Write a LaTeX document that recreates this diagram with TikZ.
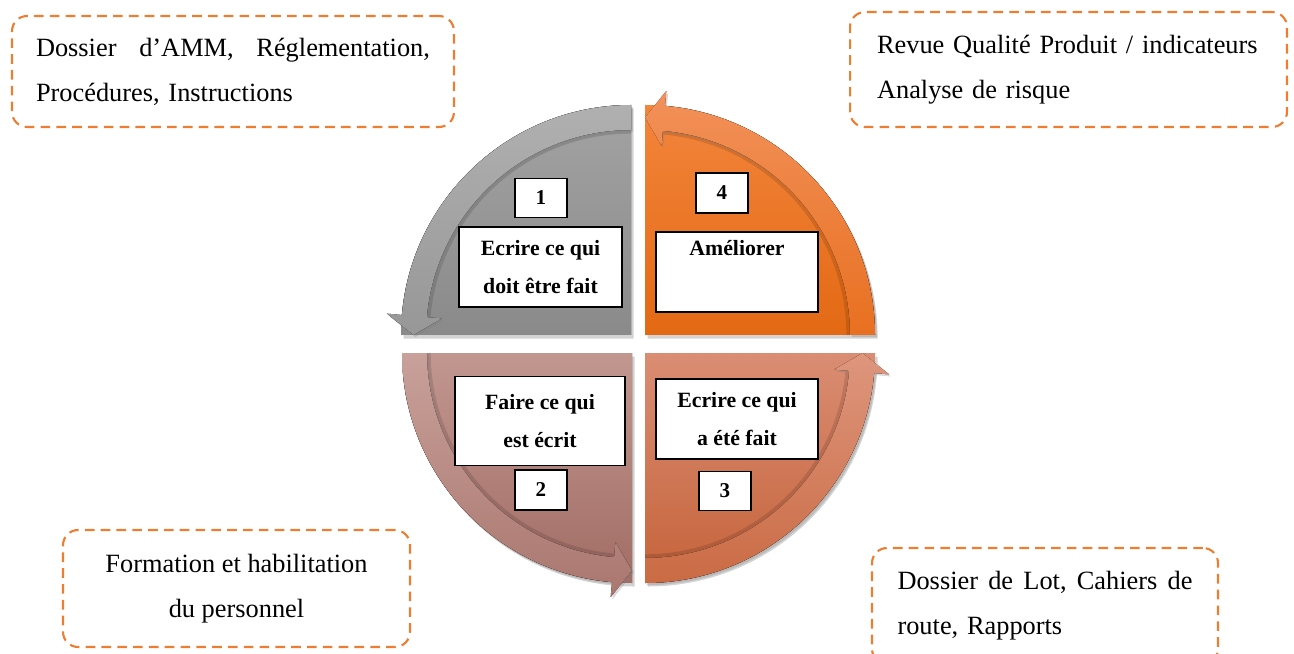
\documentclass[tikz,border=0pt]{standalone}
\usepackage{fontspec}
\setmainfont{Liberation Serif}
\usetikzlibrary{calc,shadows}

\definecolor{dashorange}{HTML}{ED7D31}
\definecolor{greyTop}{HTML}{A3A3A3}
\definecolor{greyBot}{HTML}{8A8A8A}
\definecolor{greyBandTop}{HTML}{B0B0B0}
\definecolor{greyBandBot}{HTML}{979797}
\definecolor{orTop}{HTML}{F3853C}
\definecolor{orBot}{HTML}{E36914}
\definecolor{orBandTop}{HTML}{F2915A}
\definecolor{orBandBot}{HTML}{E87020}
\definecolor{roseTop}{HTML}{C19790}
\definecolor{roseBot}{HTML}{A26D65}
\definecolor{roseBandTop}{HTML}{C8A19A}
\definecolor{roseBandBot}{HTML}{AA776F}
\definecolor{coralTop}{HTML}{DA8D73}
\definecolor{coralBot}{HTML}{C5633A}
\definecolor{coralBandTop}{HTML}{DE967D}
\definecolor{coralBandBot}{HTML}{CA6B44}

\tikzset{
  note/.style={draw=dashorange, line width=1.2pt, dash pattern=on 5.5pt off 3.5pt,
    rounded corners=0.3cm, font=\fontsize{15}{25.5}\selectfont},
  wbox/.style={draw=black, fill=white, line width=0.6pt, inner sep=0pt, align=center,
    font=\fontsize{12.4}{21.5}\selectfont\bfseries, minimum width=3.24cm, minimum height=1.6cm},
  nbox/.style={draw=black, fill=white, line width=0.6pt, inner sep=0pt,
    font=\fontsize{12}{14}\selectfont\bfseries, minimum width=1.04cm, minimum height=0.78cm},
  quad/.style={drop shadow={shadow xshift=1.5pt, shadow yshift=-2pt, opacity=.35}},
  band/.style={drop shadow={shadow xshift=1pt, shadow yshift=-1.2pt, opacity=.3}},
  rim/.style={black, opacity=.12, line width=2.5pt}
}

\begin{document}
\begin{tikzpicture}[x=0.02cm, y=0.02cm]
    \useasboundingbox (0,0) rectangle (1294,653);
    \clip (0,0) rectangle (1294,653);

    % First, the corners of the four quarters
        \coordinate (tl) at (631,318);
        \coordinate (tr) at (645,318);
        \coordinate (bl) at (632,300);
        \coordinate (br) at (645,300);

    % Quarter discs
        \fill[quad, top color=greyTop, bottom color=greyBot] (tl) -- ++(0,230) arc[start angle=90, end angle=180, radius=230] -- cycle;
        \fill[quad, top color=orTop, bottom color=orBot] (tr) -- ++(230,0) arc[start angle=0, end angle=90, radius=230] -- cycle;
        \fill[quad, top color=roseTop, bottom color=roseBot] (bl) -- ++(-230,0) arc[start angle=180, end angle=270, radius=230] -- cycle;
        \fill[quad, top color=coralTop, bottom color=coralBot] (br) -- ++(0,-230) arc[start angle=270, end angle=360, radius=230] -- cycle;

    % Soft shade inside the rims
        \draw[rim] ($(tl)+(90:203.5)$) arc[start angle=90, end angle=175, radius=203.5];
        \draw[rim] ($(tr)+(0:203.5)$) arc[start angle=0, end angle=85, radius=203.5];
        \draw[rim] ($(bl)+(180:203.5)$) arc[start angle=180, end angle=265, radius=203.5];
        \draw[rim] ($(br)+(270:203.5)$) arc[start angle=270, end angle=355, radius=203.5];

    % Curved arrows along the rims
        \fill[band, top color=greyBandTop, bottom color=greyBandBot] ($(tl)+(90:230)$) arc[start angle=90, end angle=175, radius=230]
            -- ($(tl)+(175:245)$) -- ($(tl)+(180:217.5)$) -- ($(tl)+(175:190)$) -- ($(tl)+(175:205)$)
            arc[start angle=175, end angle=90, radius=205] -- cycle;
        \fill[band, top color=orBandTop, bottom color=orBandBot] ($(tr)+(0:230)$) arc[start angle=0, end angle=85, radius=230]
            -- ($(tr)+(85:245)$) -- ($(tr)+(90:217.5)$) -- ($(tr)+(85:190)$) -- ($(tr)+(85:205)$)
            arc[start angle=85, end angle=0, radius=205] -- cycle;
        \fill[band, top color=roseBandTop, bottom color=roseBandBot] ($(bl)+(180:230)$) arc[start angle=180, end angle=265, radius=230]
            -- ($(bl)+(265:245)$) -- ($(bl)+(270:217.5)$) -- ($(bl)+(265:190)$) -- ($(bl)+(265:205)$)
            arc[start angle=265, end angle=180, radius=205] -- cycle;
        \fill[band, top color=coralBandTop, bottom color=coralBandBot] ($(br)+(270:230)$) arc[start angle=270, end angle=355, radius=230]
            -- ($(br)+(355:245)$) -- ($(br)+(360:217.5)$) -- ($(br)+(355:190)$) -- ($(br)+(355:205)$)
            arc[start angle=355, end angle=270, radius=205] -- cycle;

    % Step boxes
        \node[nbox] (num1) at (541,455) {1};
        \node[wbox, minimum width=3.26cm] (step1) at (540.5,386) {Ecrire ce qui\\doit être fait};
        \node[nbox, minimum height=0.8cm] (num4) at (722,460) {4};
        \node[wbox] (step4) at (737,381) {Améliorer\\\strut};
        \node[wbox, minimum width=3.4cm, minimum height=1.78cm] (step2) at (540,232) {Faire ce qui\\est écrit};
        \node[nbox, minimum height=0.8cm] (num2) at (541,163) {2};
        \node[wbox] (step3) at (737,234) {Ecrire ce qui\\a été fait};
        \node[nbox] (num3) at (725,162) {3};

    % Dashed notes
        \node[note, align=left, text width=7.88cm, inner xsep=0.48cm, minimum height=2.22cm] (amm) at (233,581.5)
            {\makebox[7.88cm][s]{Dossier\hfill d’AMM,\hfill Réglementation,}\\Procédures, Instructions};
        \node[note, align=left, text width=7.66cm, inner xsep=0.54cm, minimum height=2.3cm] (revue) at (1068.5,583.5)
            {Revue Qualité Produit / indicateurs\\Analyse de risque};
        \node[note, align=center, minimum width=6.94cm, minimum height=2.34cm] (formation) at (236.5,64.5)
            {Formation et habilitation\\du personnel};
        \node[note, align=left, text width=5.9cm, inner xsep=0.51cm, minimum height=2.32cm] (lot) at (1045,47)
            {\makebox[5.9cm][s]{Dossier\hfill de\hfill Lot,\hfill Cahiers\hfill de}\\route, Rapports};
\end{tikzpicture}
\end{document}
